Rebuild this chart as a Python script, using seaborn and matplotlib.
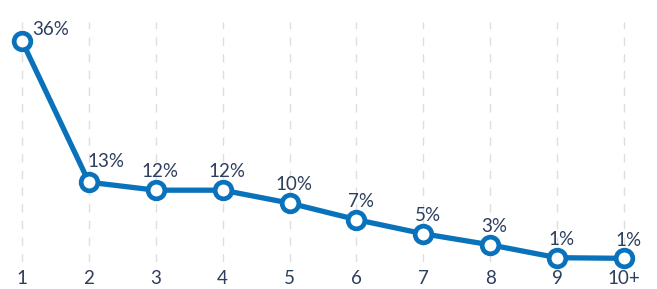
import matplotlib.pyplot as plt
import seaborn as sns
import pandas as pd

categories = ["1", "2", "3", "4", "5", "6", "7", "8", "9", "10+"]
shares = [36.0, 13.0, 11.7, 11.7, 9.6, 6.9, 4.6, 2.8, 0.7, 0.6]
share_labels = ["36%", "13%", "12%", "12%", "10%", "7%", "5%", "3%", "1%", "1%"]

df = pd.DataFrame({"category": categories, "share": shares})

blue = "#0a72ba"
navy = "#2c3e5c"

sns.set_style("white")
plt.rcParams["font.family"] = ["Lato", "DejaVu Sans"]

fig = plt.figure(figsize=(6.57, 2.89), dpi=100)
ax = fig.add_axes([0, 27 / 289, 1, 240 / 289])

sns.lineplot(data=df, x="category", y="share", ax=ax, color=blue, linewidth=3.8,
             marker="o", markersize=12, markerfacecolor="white",
             markeredgecolor=blue, markeredgewidth=3.4, sort=False, clip_on=False,
             zorder=3)

ax.set_xlim(-0.329, 9.493)
ax.set_ylim(0, 39.1)

for i in range(len(categories)):
    ax.axvline(i, color="#dedede", linewidth=1, linestyle=(0, (6, 6)), zorder=1)

offsets = {0: (7, 2), 1: (12, 9)}
for i, (v, lab) in enumerate(zip(shares, share_labels)):
    dx, dy = offsets.get(i, (3, 7))
    ha = "left" if i == 0 else "center"
    ax.annotate(lab, (i, v), xytext=(dx, dy), textcoords="offset points",
                ha=ha, va="bottom", fontsize=13.5, color=navy, zorder=4)

ax.set_yticks([])
ax.tick_params(axis="x", length=0, pad=6, labelsize=13.5, labelcolor=navy)
ax.set_xlabel("")
ax.set_ylabel("")
sns.despine(ax=ax, left=True, bottom=True)

fig.savefig("out.png", dpi=100)
